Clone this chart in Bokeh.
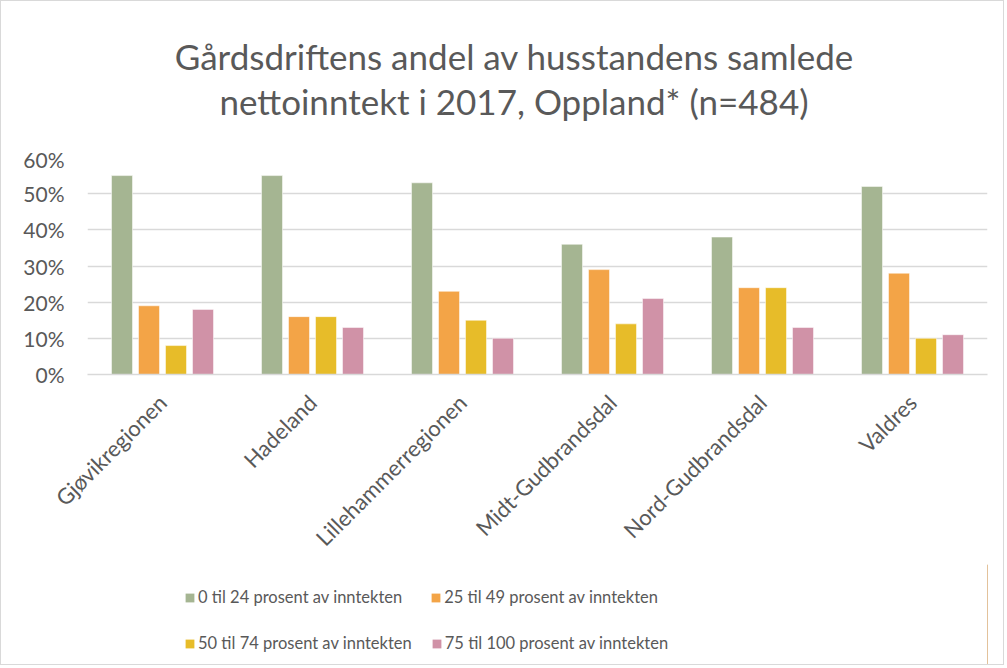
from bokeh.plotting import figure
from bokeh.models import FactorRange, Legend, LegendItem, NumeralTickFormatter, FixedTicker, Div, ColumnDataSource
from bokeh.layouts import column
from bokeh.transform import dodge
from bokeh.embed import file_html
from bokeh.resources import INLINE
import math

regions = ["Gjøvikregionen", "Hadeland", "Lillehammerregionen",
           "Midt-Gudbrandsdal", "Nord-Gudbrandsdal", "Valdres"]
s0_24 = [0.55, 0.55, 0.53, 0.36, 0.38, 0.52]
s25_49 = [0.19, 0.16, 0.23, 0.29, 0.24, 0.28]
s50_74 = [0.08, 0.16, 0.15, 0.14, 0.24, 0.10]
s75_100 = [0.18, 0.13, 0.10, 0.21, 0.13, 0.11]
series_names = ["0 til 24 prosent av inntekten", "25 til 49 prosent av inntekten",
                "50 til 74 prosent av inntekten", "75 til 100 prosent av inntekten"]
colors = ["#A5B592", "#F3A447", "#E7BC29", "#D092A7"]
y_ticks = [0, 0.1, 0.2, 0.3, 0.4, 0.5, 0.6]
title_lines = ["Gårdsdriftens andel av husstandens samlede", "nettoinntekt i 2017, Oppland* (n=484)"]

FONT = "Lato"
GREY = "#595959"
W = 1002

title = Div(text="<br>".join(title_lines), width=W, height=145, margin=0,
            styles={"font-family": FONT, "font-size": "35px", "line-height": "45px",
                    "color": GREY, "text-align": "center", "padding-top": "33px",
                    "padding-left": "24px", "box-sizing": "border-box"})

src = ColumnDataSource(dict(x=regions, a=s0_24, b=s25_49, c=s50_74, d=s75_100))

p = figure(x_range=FactorRange(*regions), y_range=(0, 0.6),
           frame_width=900, frame_height=217, output_backend="svg", toolbar_location=None,
           min_border_left=86, min_border_right=16, min_border_top=11, min_border_bottom=190,
           margin=0)

offsets = [-0.27, -0.09, 0.09, 0.27]
for key, off, col in zip(["a", "b", "c", "d"], offsets, colors):
    p.vbar(x=dodge("x", off, range=p.x_range), top=key, width=0.14, source=src,
           fill_color=col, line_color="white", line_width=0.5)

p.yaxis.ticker = FixedTicker(ticks=y_ticks)
p.yaxis.formatter = NumeralTickFormatter(format="0%")
p.yaxis.axis_line_color = None
p.yaxis.major_tick_line_color = None
p.yaxis.minor_tick_line_color = None
p.yaxis.major_label_text_font = FONT
p.yaxis.major_label_text_font_size = "21px"
p.yaxis.major_label_text_color = GREY
p.yaxis.major_label_standoff = 17

p.xaxis.axis_line_color = "#D9D9D9"
p.xaxis.axis_line_width = 1.5
p.xaxis.major_tick_line_color = None
p.xaxis.minor_tick_line_color = None
p.xaxis.major_label_orientation = math.pi / 4
p.xaxis.major_label_text_font = FONT
p.xaxis.major_label_text_font_size = "22px"
p.xaxis.major_label_text_color = GREY
p.xaxis.major_label_standoff = 18

p.xgrid.grid_line_color = None
p.ygrid.grid_line_color = "#D9D9D9"
p.ygrid.grid_line_width = 1.5
p.outline_line_color = None

# legend panel (swatch renderers sit outside the visible range; only the legend shows)
lg = figure(width=W, height=100, x_range=(0, 1), y_range=(0, 1), output_backend="svg",
            toolbar_location=None, min_border_left=86, min_border_right=16,
            min_border_top=0, min_border_bottom=0, margin=0,
            x_axis_location=None, y_axis_location=None)
lg.grid.visible = False
lg.outline_line_color = None
lrs = [lg.vbar(x=[5], top=[1], width=0.1, fill_color=c, line_color=None) for c in colors]

common = dict(orientation="horizontal", label_text_font=FONT, label_text_font_size="16.5px",
              label_text_color=GREY, glyph_width=11, glyph_height=11, label_standoff=3,
              label_height=20, border_line_color=None, background_fill_alpha=0,
              margin=0, padding=0)
legend1 = Legend(items=[LegendItem(label=series_names[0], renderers=[lrs[0]]),
                        LegendItem(label=series_names[1], renderers=[lrs[1]])],
                 location=(97, 57), spacing=28, **common)
legend2 = Legend(items=[LegendItem(label=series_names[2], renderers=[lrs[2]]),
                        LegendItem(label=series_names[3], renderers=[lrs[3]])],
                 location=(97, 11), spacing=19, **common)
lg.add_layout(legend1, "center")
lg.add_layout(legend2, "center")

layout = column(title, p, lg, spacing=0, styles={"border": "1px solid #D9D9D9"})

open("out.html", "w").write(file_html(layout, INLINE))
